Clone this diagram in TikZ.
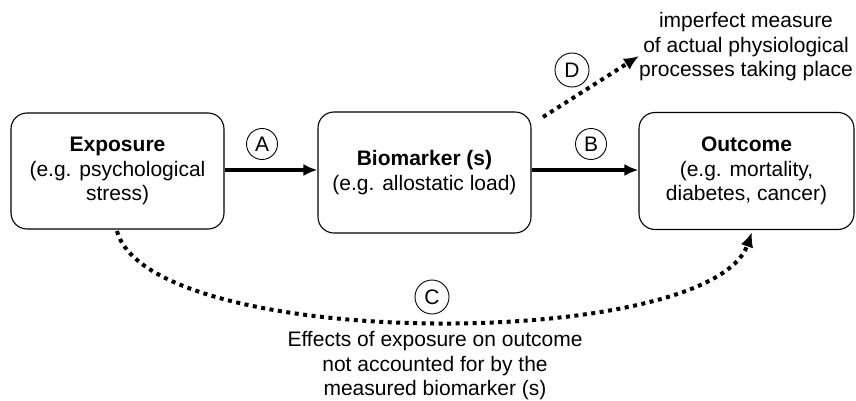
\documentclass[tikz,border=0pt]{standalone}
\usepackage{fontspec}
\setmainfont{Liberation Sans}
\usetikzlibrary{arrows.meta}

\begin{document}
\begin{tikzpicture}[x=1pt,y=-1pt,>=Latex,
        box/.style={draw, line width=1.1pt, rounded corners=16pt, align=center, inner sep=0pt},
        label/.style={draw, circle, line width=0.9pt, minimum size=31pt, inner sep=0pt},
        link/.style={-{Latex[length=14pt,width=12pt]}, line width=4pt},
        hidden/.style={-{Latex[length=15pt,width=13pt]}, line width=4pt, dash pattern=on 4pt off 4.5pt}]
        \fontsize{21}{24.5}\selectfont
        \useasboundingbox (0,0) rectangle (856,401);

        \node[box, minimum width=213pt, minimum height=116pt] (exp) at (117.5,171) {\textbf{Exposure}\\(e.g. psychological\\stress)};
        \node[box, minimum width=213pt, minimum height=121pt] (bio) at (424.5,172.5) {\textbf{Biomarker (s)}\\(e.g. allostatic load)};
        \node[box, minimum width=215pt, minimum height=117pt] (out) at (746.5,171) {\textbf{Outcome}\\(e.g. mortality,\\diabetes, cancer)};

        \draw[link] (exp.east |- 0,170) -- (bio.west |- 0,170);
        \draw[link] (bio.east |- 0,170) -- (out.west |- 0,170);
        \node[label] (a) at (262,144) {A};
        \node[label] (b) at (591,144) {B};

        % measurement error
        \coordinate (dstart) at (543,117);
        \coordinate (dend) at (639,56);
        \draw[hidden] (dstart) -- (dend);
        \node[label, minimum size=34pt] (d) at (572,70) {D};
        \node[align=center, inner sep=0pt] (meas) at (746,47) {imperfect measure\\of actual physiological\\processes taking place};

        % direct path
        \coordinate (cstart) at (117,231);
        \coordinate (cend) at (752,232);
        \draw[hidden] (cstart) .. controls (150,352) and (710,352) .. (cend);
        \node[label, minimum size=34pt] (c) at (432,297) {C};
        \node[align=center, inner sep=0pt] (eff) at (435,366) {Effects of exposure on outcome\\not accounted for by the\\measured biomarker (s)};
\end{tikzpicture}
\end{document}
